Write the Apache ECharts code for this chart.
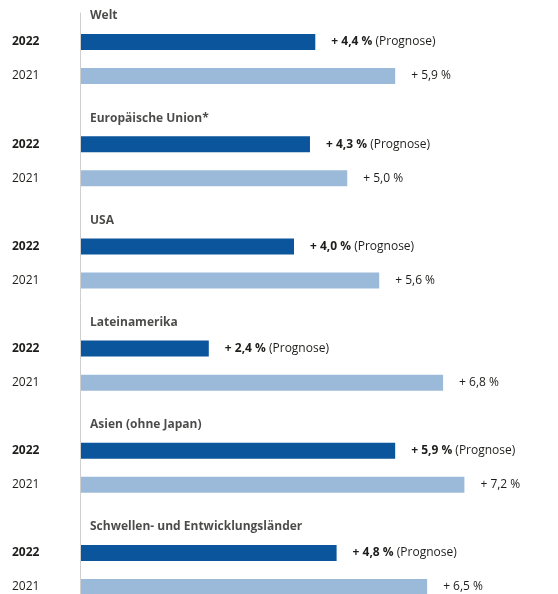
<!DOCTYPE html>
<html>
<head>
<meta charset="utf-8">
<script src="https://cdn.jsdelivr.net/npm/echarts@6/dist/echarts.min.js"></script>
<style>
  html, body { margin: 0; padding: 0; background: #fff; }
  #main { width: 558px; height: 594px; }
</style>
</head>
<body>
<div id="main"></div>
<script>
const regions = ['Welt', 'Europäische Union*', 'USA', 'Lateinamerika', 'Asien (ohne Japan)', 'Schwellen- und Entwicklungsländer']
const growth2022 = [4.4, 4.3, 4.0, 2.4, 5.9, 4.8]
const growth2021 = [5.9, 5.0, 5.6, 6.8, 7.2, 6.5]
const yearLabels = ['2022', '2021']

const textColor = '#1d1d1b'
const font = '"Open Sans", sans-serif'

// three rows per region: title row, 2022 row, 2021 row
const rows = []
regions.forEach(r => {
  rows.push(r + '|t', r + '|' + yearLabels[0], r + '|' + yearLabels[1])
})

const fmt = v => '+ ' + v.toFixed(1).replace('.', ',') + ' %'

const data2022 = rows.map((k, i) => i % 3 === 1 ? growth2022[Math.floor(i / 3)] : '-')
const data2021 = rows.map((k, i) => i % 3 === 2 ? growth2021[Math.floor(i / 3)] : '-')
const titleData = regions.map((r, i) => ({ name: r, value: [0, rows[i * 3]] }))

const chart = echarts.init(document.getElementById('main'))
chart.setOption({
  animation: false,
  textStyle: { fontFamily: font, color: textColor },
  grid: [
    { left: 81, top: -9.1, width: 426, height: 613.2, outerBoundsMode: 'none' },
    { left: 80, top: 13, bottom: 0, width: 10, outerBoundsMode: 'none' } // only carries the vertical line
  ],
  xAxis: [
    { gridIndex: 0, type: 'value', min: 0, max: 8, show: false },
    { gridIndex: 1, type: 'value', show: false }
  ],
  yAxis: [
    {
      gridIndex: 0,
      type: 'category',
      inverse: true,
      data: rows,
      axisLine: { show: false },
      axisTick: { show: false },
      splitLine: { show: false },
      axisLabel: {
        interval: 0,
        align: 'left',
        margin: 69,
        fontFamily: font,
        fontSize: 12,
        color: textColor,
        formatter: v => {
          const y = v.split('|')[1]
          if (y === yearLabels[0]) return '{b|' + y + '}'
          if (y === yearLabels[1]) return y
          return ''
        },
        rich: {
          b: { fontWeight: 'bold', fontFamily: font, fontSize: 12, color: textColor }
        }
      }
    },
    {
      gridIndex: 1,
      type: 'value',
      axisLine: { show: true, lineStyle: { color: '#cfcfcf', width: 1 } },
      axisTick: { show: false },
      axisLabel: { show: false },
      splitLine: { show: false }
    }
  ],
  series: [
    {
      name: '2022',
      type: 'bar',
      barWidth: 16,
      barGap: '-100%',
      itemStyle: { color: '#0a559c' },
      data: data2022,
      label: {
        show: true,
        position: 'right',
        distance: 16,
        fontFamily: font,
        fontSize: 12,
        color: textColor,
        formatter: p => '{b|' + fmt(p.value) + '} {n|(Prognose)}',
        rich: {
          b: { fontWeight: 'bold', fontFamily: font, fontSize: 12, color: textColor },
          n: { fontFamily: font, fontSize: 12, color: textColor }
        }
      }
    },
    {
      name: '2021',
      type: 'bar',
      barWidth: 16,
      barGap: '-100%',
      itemStyle: { color: '#9bbad9' },
      data: data2021,
      label: {
        show: true,
        position: 'right',
        distance: 16,
        fontFamily: font,
        fontSize: 12,
        color: textColor,
        formatter: p => fmt(p.value)
      }
    },
    {
      name: 'titles',
      type: 'scatter',
      symbolSize: 0,
      silent: true,
      data: titleData,
      label: {
        show: true,
        position: 'right',
        distance: 9,
        offset: [0, 8],
        fontFamily: font,
        fontSize: 12,
        fontWeight: 'bold',
        color: textColor,
        formatter: '{b}'
      }
    }
  ]
})
</script>
</body>
</html>
